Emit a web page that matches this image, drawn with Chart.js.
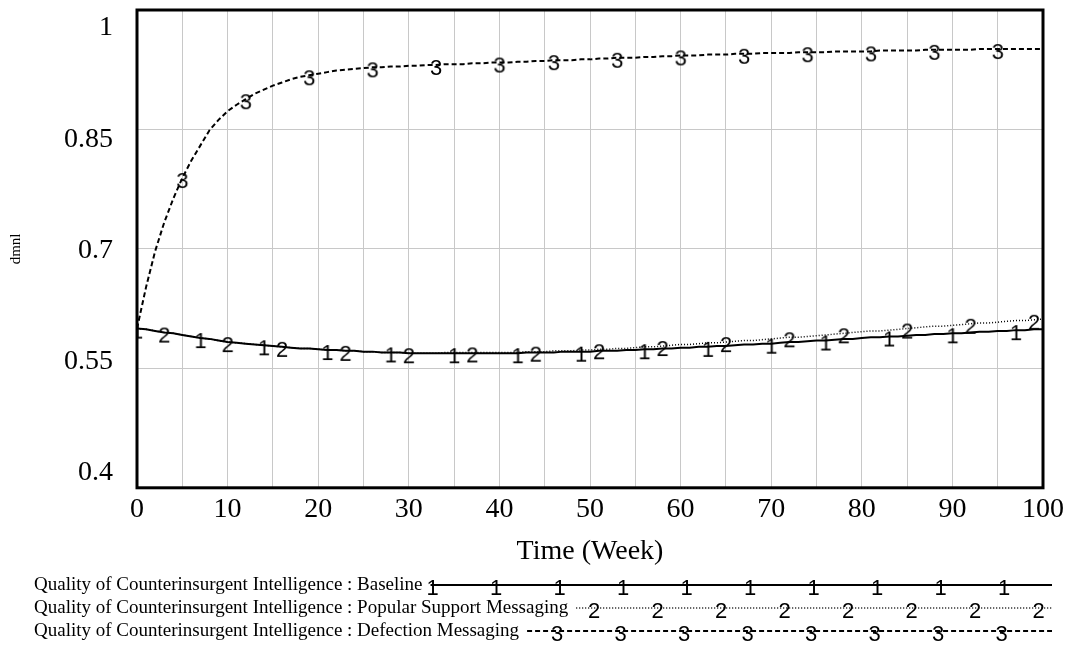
<!DOCTYPE html>
<html>
<head>
<meta charset="utf-8">
<script src="https://cdn.jsdelivr.net/npm/chart.js@4.4.1/dist/chart.umd.min.js"></script>
<style>
    body { margin: 0; background: #ffffff; }
    canvas { display: block; }
</style>
</head>
<body>
<canvas id="simChart" width="1069" height="646"></canvas>
<script>
// Time axis (weeks)
const weeks = [
    0, 1, 2, 3, 4, 5, 6, 7, 8, 9, 10, 11, 12, 13, 14, 15, 16, 17, 18, 19, 20,
    21, 22, 23, 24, 25, 26, 27, 28, 29, 30, 31, 32, 33, 34, 35, 36, 37, 38, 39, 40,
    41, 42, 43, 44, 45, 46, 47, 48, 49, 50, 51, 52, 53, 54, 55, 56, 57, 58, 59, 60,
    61, 62, 63, 64, 65, 66, 67, 68, 69, 70, 71, 72, 73, 74, 75, 76, 77, 78, 79, 80,
    81, 82, 83, 84, 85, 86, 87, 88, 89, 90, 91, 92, 93, 94, 95, 96, 97, 98, 99, 100
];

// Quality of Counterinsurgent Intelligence : Baseline
const baseline = [
    0.600, 0.599, 0.597, 0.595, 0.594, 0.592, 0.590, 0.588, 0.587, 0.585, 0.583,
    0.582, 0.581, 0.580, 0.579, 0.578, 0.577, 0.576, 0.575, 0.575, 0.574,
    0.573, 0.573, 0.572, 0.572, 0.571, 0.571, 0.570, 0.570, 0.570, 0.569,
    0.569, 0.569, 0.569, 0.569, 0.569, 0.569, 0.569, 0.569, 0.569, 0.569,
    0.569, 0.569, 0.570, 0.570, 0.570, 0.570, 0.571, 0.571, 0.571, 0.571,
    0.572, 0.572, 0.572, 0.573, 0.573, 0.574, 0.574, 0.575, 0.575, 0.576,
    0.576, 0.577, 0.577, 0.578, 0.578, 0.579, 0.580, 0.580, 0.581, 0.581,
    0.582, 0.583, 0.583, 0.584, 0.585, 0.585, 0.586, 0.587, 0.587, 0.588,
    0.589, 0.589, 0.590, 0.590, 0.591, 0.592, 0.592, 0.593, 0.593, 0.594,
    0.594, 0.595, 0.596, 0.596, 0.597, 0.597, 0.598, 0.598, 0.599, 0.599
];

// Quality of Counterinsurgent Intelligence : Popular Support Messaging
const popularSupport = [
    0.600, 0.599, 0.597, 0.595, 0.594, 0.592, 0.590, 0.588, 0.587, 0.585, 0.583,
    0.582, 0.581, 0.580, 0.579, 0.578, 0.577, 0.576, 0.575, 0.575, 0.574,
    0.573, 0.573, 0.572, 0.572, 0.571, 0.571, 0.570, 0.570, 0.570, 0.569,
    0.569, 0.569, 0.569, 0.570, 0.570, 0.570, 0.570, 0.570, 0.570, 0.570,
    0.570, 0.570, 0.571, 0.571, 0.571, 0.572, 0.572, 0.572, 0.573, 0.573,
    0.574, 0.574, 0.575, 0.575, 0.576, 0.577, 0.577, 0.578, 0.579, 0.580,
    0.580, 0.581, 0.582, 0.582, 0.583, 0.584, 0.585, 0.585, 0.586, 0.587,
    0.588, 0.589, 0.589, 0.590, 0.591, 0.592, 0.593, 0.594, 0.595, 0.596,
    0.597, 0.597, 0.598, 0.599, 0.600, 0.601, 0.602, 0.603, 0.603, 0.604,
    0.605, 0.606, 0.607, 0.607, 0.608, 0.609, 0.610, 0.610, 0.611, 0.612
];

// Quality of Counterinsurgent Intelligence : Defection Messaging
const defection = [
    0.600, 0.652, 0.697, 0.733, 0.763, 0.789, 0.811, 0.830, 0.849, 0.862, 0.873,
    0.881, 0.888, 0.895, 0.900, 0.905, 0.909, 0.913, 0.916, 0.918, 0.920,
    0.922, 0.924, 0.925, 0.926, 0.927, 0.928, 0.928, 0.929, 0.929, 0.930,
    0.930, 0.931, 0.931, 0.932, 0.932, 0.932, 0.933, 0.933, 0.934, 0.934,
    0.934, 0.935, 0.935, 0.936, 0.936, 0.937, 0.937, 0.937, 0.938, 0.938,
    0.939, 0.939, 0.940, 0.940, 0.940, 0.941, 0.941, 0.942, 0.942, 0.943,
    0.943, 0.943, 0.944, 0.944, 0.944, 0.945, 0.945, 0.945, 0.946, 0.946,
    0.946, 0.946, 0.947, 0.947, 0.947, 0.947, 0.948, 0.948, 0.948, 0.948,
    0.948, 0.949, 0.949, 0.949, 0.949, 0.949, 0.950, 0.950, 0.950, 0.950,
    0.950, 0.950, 0.951, 0.951, 0.951, 0.951, 0.951, 0.951, 0.951, 0.951
];

// weeks where the numbered markers sit on each curve
const baselineMarks = [0, 7, 14, 21, 28, 35, 42, 49, 56, 63, 70, 76, 83, 90, 97];
const popularMarks = [3, 10, 16, 23, 30, 37, 44, 51, 58, 65, 72, 78, 85, 92, 99];
const defectionMarks = [5, 12, 19, 26, 33, 40, 46, 53, 60, 67, 74, 81, 88, 95];

const seriesLabels = [
    'Quality of Counterinsurgent Intelligence : Baseline',
    'Quality of Counterinsurgent Intelligence : Popular Support Messaging',
    'Quality of Counterinsurgent Intelligence : Defection Messaging'
];
const xTickLabels = ['0', '10', '20', '30', '40', '50', '60', '70', '80', '90', '100'];
const yTickLabels = ['1', '0.85', '0.7', '0.55', '0.4'];
const xTitle = 'Time (Week)';
const yTitle = 'dmnl';

const serif = '"Liberation Serif", "Times New Roman", serif';
const sans = '"Liberation Sans", Arial, sans-serif';

// little canvas with the digit, used as point style
function digitMarker(d) {
    const c = document.createElement('canvas');
    c.width = 26;
    c.height = 30;
    const g = c.getContext('2d');
    g.font = '22px ' + sans;
    g.textAlign = 'center';
    g.textBaseline = 'middle';
    g.fillStyle = '#000';
    g.fillText(d, 13, 19);
    return c;
}

function makeSeries(values) {
    return weeks.map((w, i) => ({ x: w, y: values[i] }));
}

function markerRadius(marks) {
    return (ctx) => marks.includes(weeks[ctx.dataIndex]) ? 6 : 0;
}

const data = {
    datasets: [
        {
            label: seriesLabels[0],
            data: makeSeries(baseline),
            borderColor: '#000',
            borderWidth: 2,
            borderDash: [],
            pointStyle: digitMarker('1'),
            pointRadius: markerRadius(baselineMarks),
            digit: '1'
        },
        {
            label: seriesLabels[1],
            data: makeSeries(popularSupport),
            borderColor: '#000',
            borderWidth: 1.5,
            borderDash: [1, 2],
            pointStyle: digitMarker('2'),
            pointRadius: markerRadius(popularMarks),
            digit: '2'
        },
        {
            label: seriesLabels[2],
            data: makeSeries(defection),
            borderColor: '#000',
            borderWidth: 2,
            borderDash: [5, 3],
            pointStyle: digitMarker('3'),
            pointRadius: markerRadius(defectionMarks),
            digit: '3'
        }
    ]
};

// frame, y labels, y title and the Vensim style legend
const vensimDecor = {
    id: 'vensimDecor',
    afterDatasetsDraw(chart) {
        const ctx = chart.ctx;
        const area = chart.chartArea;
        ctx.save();
        ctx.strokeStyle = '#000';
        ctx.lineWidth = 3;
        ctx.setLineDash([]);
        ctx.strokeRect(area.left, area.top, area.right - area.left, area.bottom - area.top);
        ctx.restore();
    },
    afterDraw(chart) {
        const ctx = chart.ctx;
        const area = chart.chartArea;
        ctx.save();
        ctx.fillStyle = '#000';

        // y labels, spread between the top and bottom of the frame
        ctx.font = '28px ' + serif;
        ctx.textAlign = 'right';
        ctx.textBaseline = 'middle';
        const y0 = area.top + 18;
        const y1 = area.bottom - 15;
        yTickLabels.forEach((lab, i) => {
            const y = y0 + i * (y1 - y0) / (yTickLabels.length - 1);
            ctx.fillText(lab, area.left - 24, y);
        });

        // y title
        ctx.save();
        ctx.translate(16, (area.top + area.bottom) / 2);
        ctx.rotate(-Math.PI / 2);
        ctx.font = '15px ' + serif;
        ctx.textAlign = 'center';
        ctx.fillText(yTitle, 0, 0);
        ctx.restore();

        // legend rows
        const rowY = [585, 608, 631];
        const firstMark = [2, 18, 30];
        const lineEnd = 1052;
        chart.data.datasets.forEach((ds, i) => {
            const y = rowY[i];
            ctx.font = '19px ' + serif;
            ctx.textAlign = 'left';
            ctx.textBaseline = 'middle';
            ctx.fillText(ds.label, 34, y);
            const start = 34 + ctx.measureText(ds.label).width + 8;

            ctx.beginPath();
            ctx.strokeStyle = '#000';
            ctx.lineWidth = ds.borderWidth;
            ctx.setLineDash(ds.borderDash);
            ctx.moveTo(start, y);
            ctx.lineTo(lineEnd, y);
            ctx.stroke();
            ctx.setLineDash([]);

            ctx.font = '22px ' + sans;
            ctx.textAlign = 'center';
            for (let x = start + firstMark[i]; x <= lineEnd + 2; x += 63.5) {
                ctx.fillText(ds.digit, x, y + 4);
            }
        });
        ctx.restore();
    }
};

const config = {
    type: 'line',
    data: data,
    options: {
        responsive: false,
        animation: false,
        events: [],
        layout: {
            padding: { left: 137, right: 23, top: 10, bottom: 78 }
        },
        plugins: {
            legend: { display: false },
            tooltip: { enabled: false }
        },
        elements: {
            line: { tension: 0, fill: false }
        },
        scales: {
            x: {
                type: 'linear',
                min: 0,
                max: 100,
                border: { display: false },
                grid: { color: '#c8c8c8', lineWidth: 1, drawTicks: false },
                ticks: {
                    stepSize: 5,
                    autoSkip: false,
                    maxRotation: 0,
                    padding: 5,
                    color: '#000',
                    font: { family: serif, size: 28 },
                    callback: (v) => (v % 10 === 0 ? xTickLabels[v / 10] : '')
                },
                title: {
                    display: true,
                    text: xTitle,
                    color: '#000',
                    font: { family: serif, size: 28 },
                    padding: { top: 3, bottom: 0 }
                }
            },
            y: {
                min: 0.4,
                max: 1,
                border: { display: false },
                grid: { color: '#c8c8c8', lineWidth: 1, drawTicks: false },
                ticks: { stepSize: 0.15, display: false }
            }
        }
    },
    plugins: [vensimDecor]
};

const ctx = document.getElementById('simChart').getContext('2d');
const simChart = new Chart(ctx, config);
</script>
</body>
</html>
